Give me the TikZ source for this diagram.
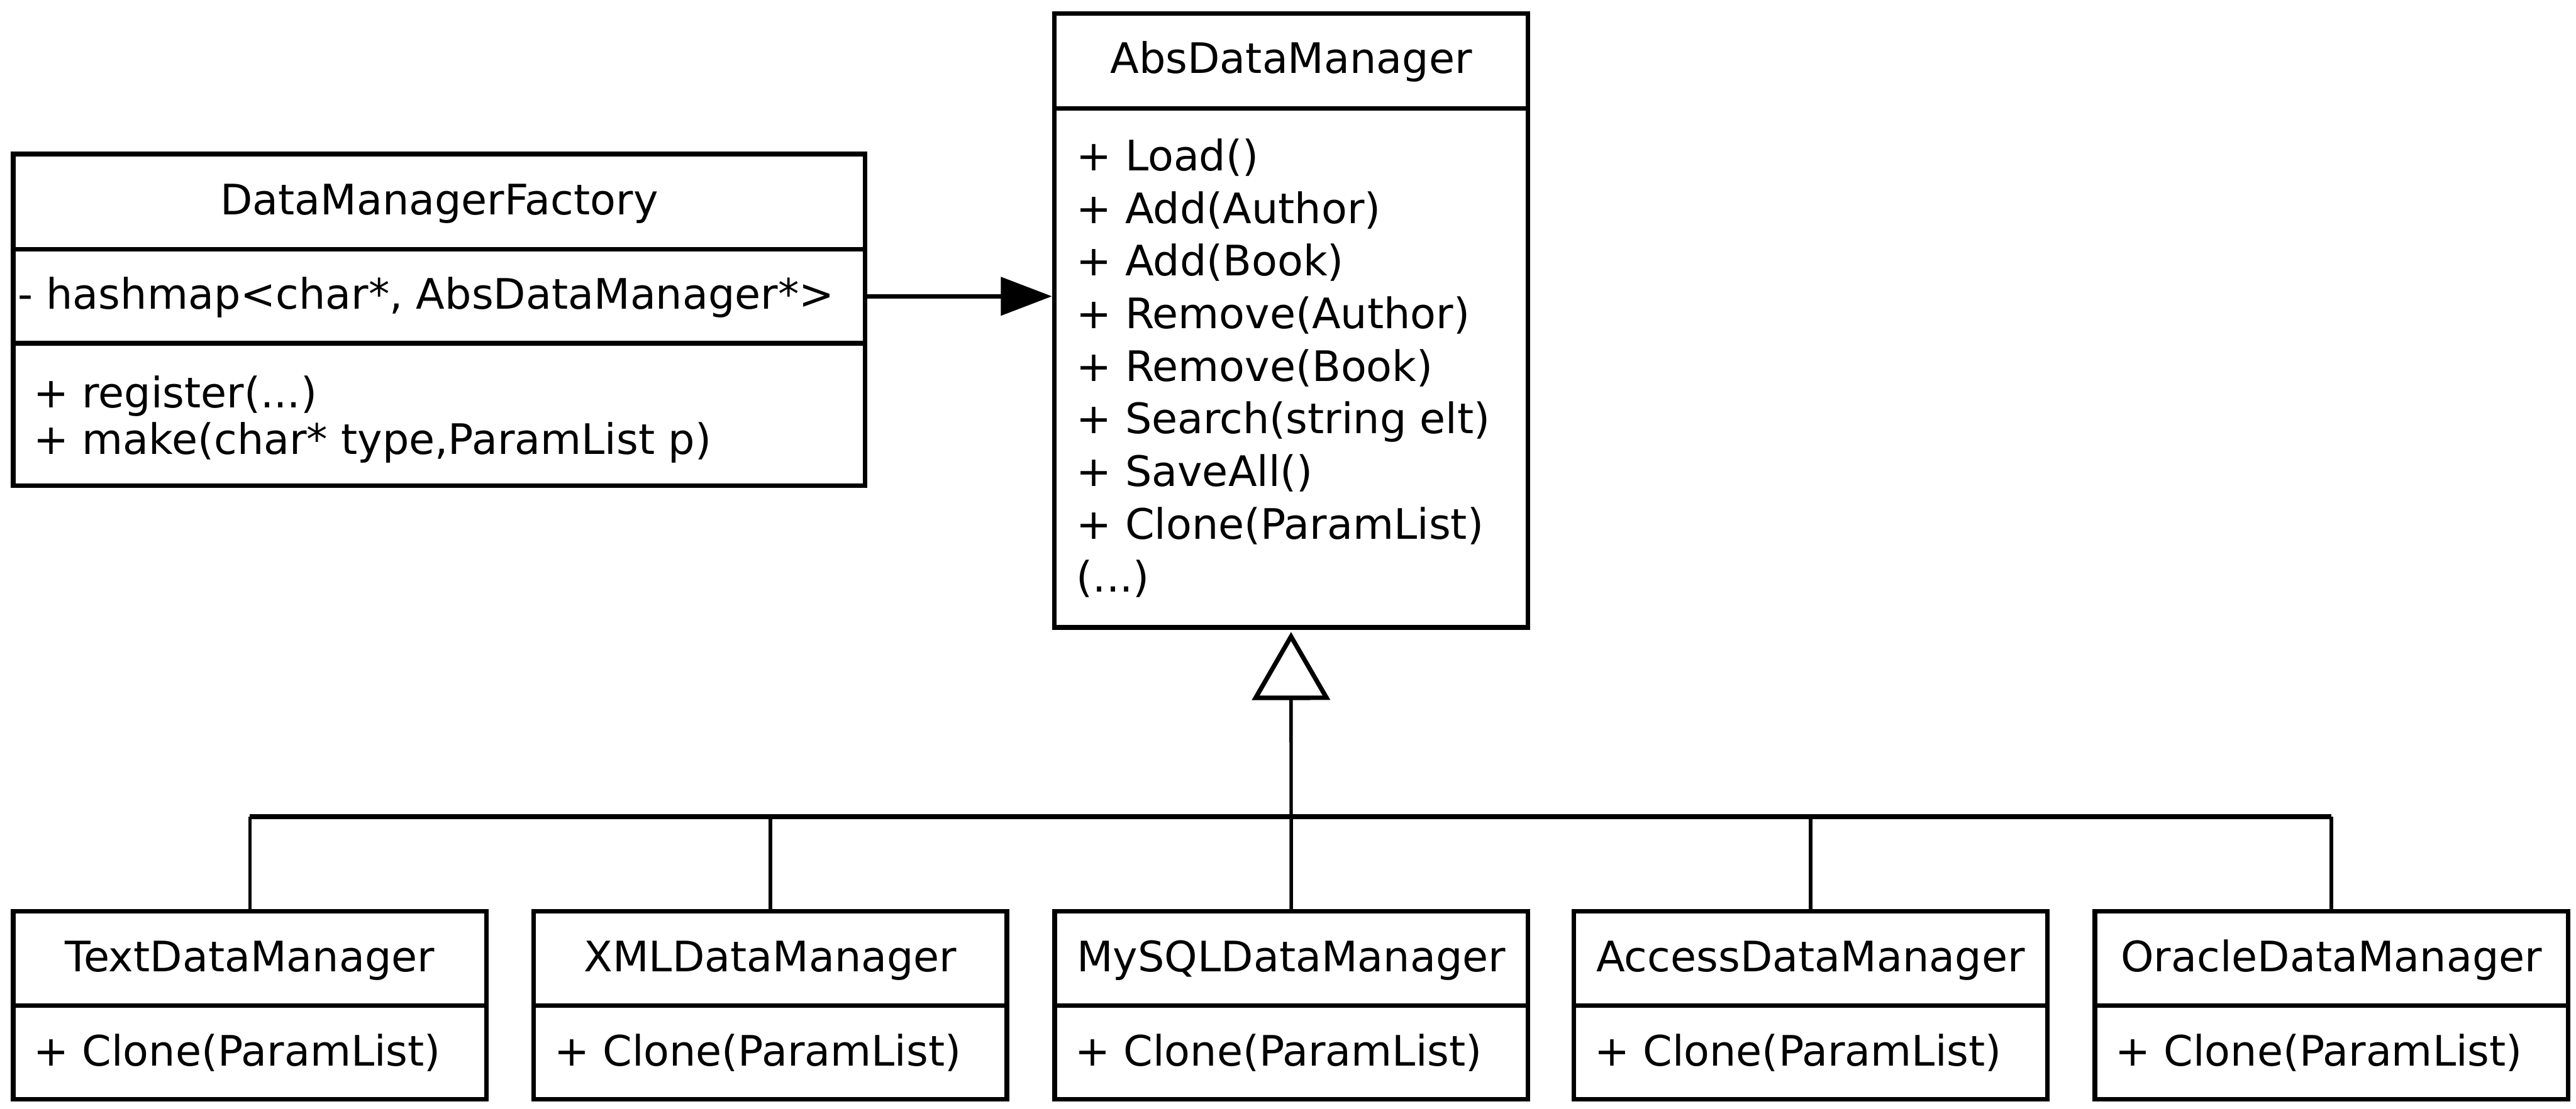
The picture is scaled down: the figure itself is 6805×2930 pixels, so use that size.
\documentclass[tikz,border=0pt]{standalone}
\usepackage{fontspec}
\setmainfont{DejaVu Sans}
\usetikzlibrary{arrows.meta}
\newcommand\cmpt[5]{\node[cbox, minimum width={(#4-#2)*0.1pt}, minimum height={(#5-#3)*0.1pt}] (#1) at ({(#2+#4)/2},{(#3+#5)/2}) {};}
\tikzset{
  cbox/.style={draw, line width=1.2pt, inner sep=0pt, fill=none},
  txt/.style={inner sep=0pt, font=\fontsize{11.1}{13.9}\selectfont},
  conn/.style={line width=0.9pt},
  busline/.style={line width=1.2pt},
}
\begin{document}
\begin{tikzpicture}[x=0.1pt,y=-0.1pt]
\useasboundingbox (0,0) rectangle (6805,2930);
% DataManagerFactory
\cmpt{fh}{35}{407}{2285}{659}
\cmpt{fa}{35}{659}{2285}{907}
\cmpt{fm}{35}{907}{2285}{1284}
\node[txt, anchor=base] (ft) at (1160,568) {DataManagerFactory};
\node[txt, anchor=base west] (fa1) at (45,816) {- hashmap<char*, AbsDataManager*>};
\node[txt, anchor=base west] (fm1) at (87,1077) {+ register(...)};
\node[txt, anchor=base west] (fm2) at (87,1201) {+ make(char* type,ParamList p)};
% AbsDataManager
\cmpt{ah}{2785}{36}{4036}{286}
\cmpt{am}{2785}{286}{4036}{1658}
\node[txt, anchor=base] (at) at (3411,194) {AbsDataManager};
\node[txt, anchor=base west] (a1) at (2842,451) {+ Load()};
\node[txt, anchor=base west] (a2) at (2842,590) {+ Add(Author)};
\node[txt, anchor=base west] (a3) at (2842,729) {+ Add(Book)};
\node[txt, anchor=base west] (a4) at (2842,868) {+ Remove(Author)};
\node[txt, anchor=base west] (a5) at (2842,1007) {+ Remove(Book)};
\node[txt, anchor=base west] (a6) at (2842,1146) {+ Search(string elt)};
\node[txt, anchor=base west] (a7) at (2842,1285) {+ SaveAll()};
\node[txt, anchor=base west] (a8) at (2842,1424) {+ Clone(ParamList)};
\node[txt, anchor=base west] (a9) at (2842,1564) {(...)};
% association arrow
\draw[line width=1.1pt, -{Triangle[length=13.5pt, width=10pt]}] (fa.east) -- (fa.east -| am.west);
% subclasses
\foreach \n/\x/\t in {b1/35/TextDataManager, b2/1410/XMLDataManager, b3/2786/MySQLDataManager, b4/4158/AccessDataManager, b5/5534/OracleDataManager}{
  \cmpt{\n h}{\x}{2408}{\x+1250}{2657}
  \cmpt{\n m}{\x}{2657}{\x+1250}{2905}
  \node[txt, anchor=base] (\n t) at (\x+625,2568) {\t};
  \node[txt, anchor=base west] (\n c) at (\x+52,2817) {+ Clone(ParamList)};
}
% inheritance
\coordinate (busy) at (0,2158);
\draw[busline] (b1h.north |- busy) -- (b5h.north |- busy);
\foreach \n in {b1,b2,b4,b5}{
  \draw[conn] (\n h.north) -- (\n h.north |- busy);
}
\draw[conn, shorten >=0.6pt, -{Triangle[open, length=18pt, width=20.5pt, line width=1.2pt, fill=white]}] (b3h.north) -- (am.south);
\end{tikzpicture}
\end{document}
